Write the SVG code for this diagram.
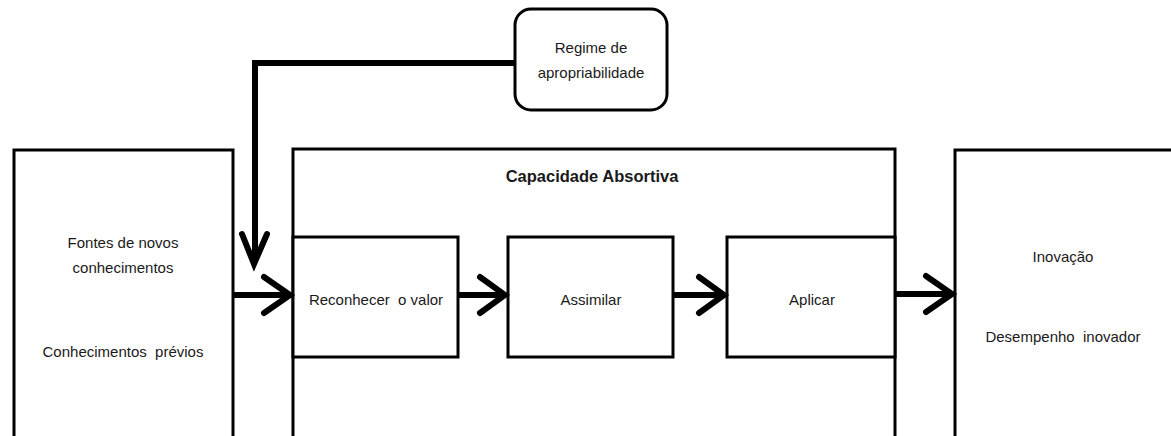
<svg xmlns="http://www.w3.org/2000/svg" width="1171" height="436" viewBox="0 0 1171 436">
<style>
.box{fill:#fff;stroke:#000;stroke-width:3}
.t{font-family:"Liberation Sans Narrow","Liberation Sans",Arial,sans-serif;font-size:15px;fill:#1a1a1a;text-anchor:middle}
.b{font-weight:bold;font-size:16.5px}
.shaft{fill:none;stroke:#000;stroke-width:6}
.head{fill:none;stroke:#000;stroke-width:6;stroke-linecap:round;stroke-linejoin:miter}
</style>
<rect width="1171" height="436" fill="#fff"/>
<g id="fontes">
<rect class="box" x="14" y="150" width="219" height="300"/>
<text class="t" x="123" y="248">Fontes de novos</text>
<text class="t" x="123" y="273">conhecimentos</text>
<text class="t" x="123" y="357" xml:space="preserve">Conhecimentos  prévios</text>
</g>
<g id="capacidade">
<rect class="box" x="293" y="149" width="602" height="300"/>
<text class="t b" x="592" y="182">Capacidade Absortiva</text>
</g>
<g id="reconhecer">
<rect class="box" x="293" y="237" width="165" height="120"/>
<text class="t" x="376" y="305" xml:space="preserve">Reconhecer  o valor</text>
</g>
<g id="assimilar">
<rect class="box" x="508" y="237" width="165" height="120"/>
<text class="t" x="591" y="305">Assimilar</text>
</g>
<g id="aplicar">
<rect class="box" x="727" y="237" width="168" height="120"/>
<text class="t" x="812" y="305">Aplicar</text>
</g>
<g id="inovacao">
<rect class="box" x="955" y="150" width="230" height="300"/>
<text class="t" x="1063" y="262">Inovação</text>
<text class="t" x="1063" y="342" xml:space="preserve">Desempenho  inovador</text>
</g>
<g id="regime">
<rect class="box" x="515" y="9" width="152" height="101" rx="16" ry="16"/>
<text class="t" x="591" y="53">Regime de</text>
<text class="t" x="591" y="78">apropriabilidade</text>
</g>
<g id="connectors">
<polyline class="shaft" points="515,63 255,63 255,262"/>
<polyline class="head" points="242,234 254,264 267,234"/>
<line class="shaft" x1="233" y1="295" x2="288" y2="295"/>
<polyline class="head" points="264,277 290,295 264,313"/>
<line class="shaft" x1="458" y1="295" x2="503" y2="295"/>
<polyline class="head" points="480,277 505,295 480,313"/>
<line class="shaft" x1="673" y1="295" x2="722" y2="295"/>
<polyline class="head" points="699,277 724,295 699,313"/>
<line class="shaft" x1="895" y1="294" x2="950" y2="294"/>
<polyline class="head" points="926,276 952,294 926,312"/>
</g>
</svg>
